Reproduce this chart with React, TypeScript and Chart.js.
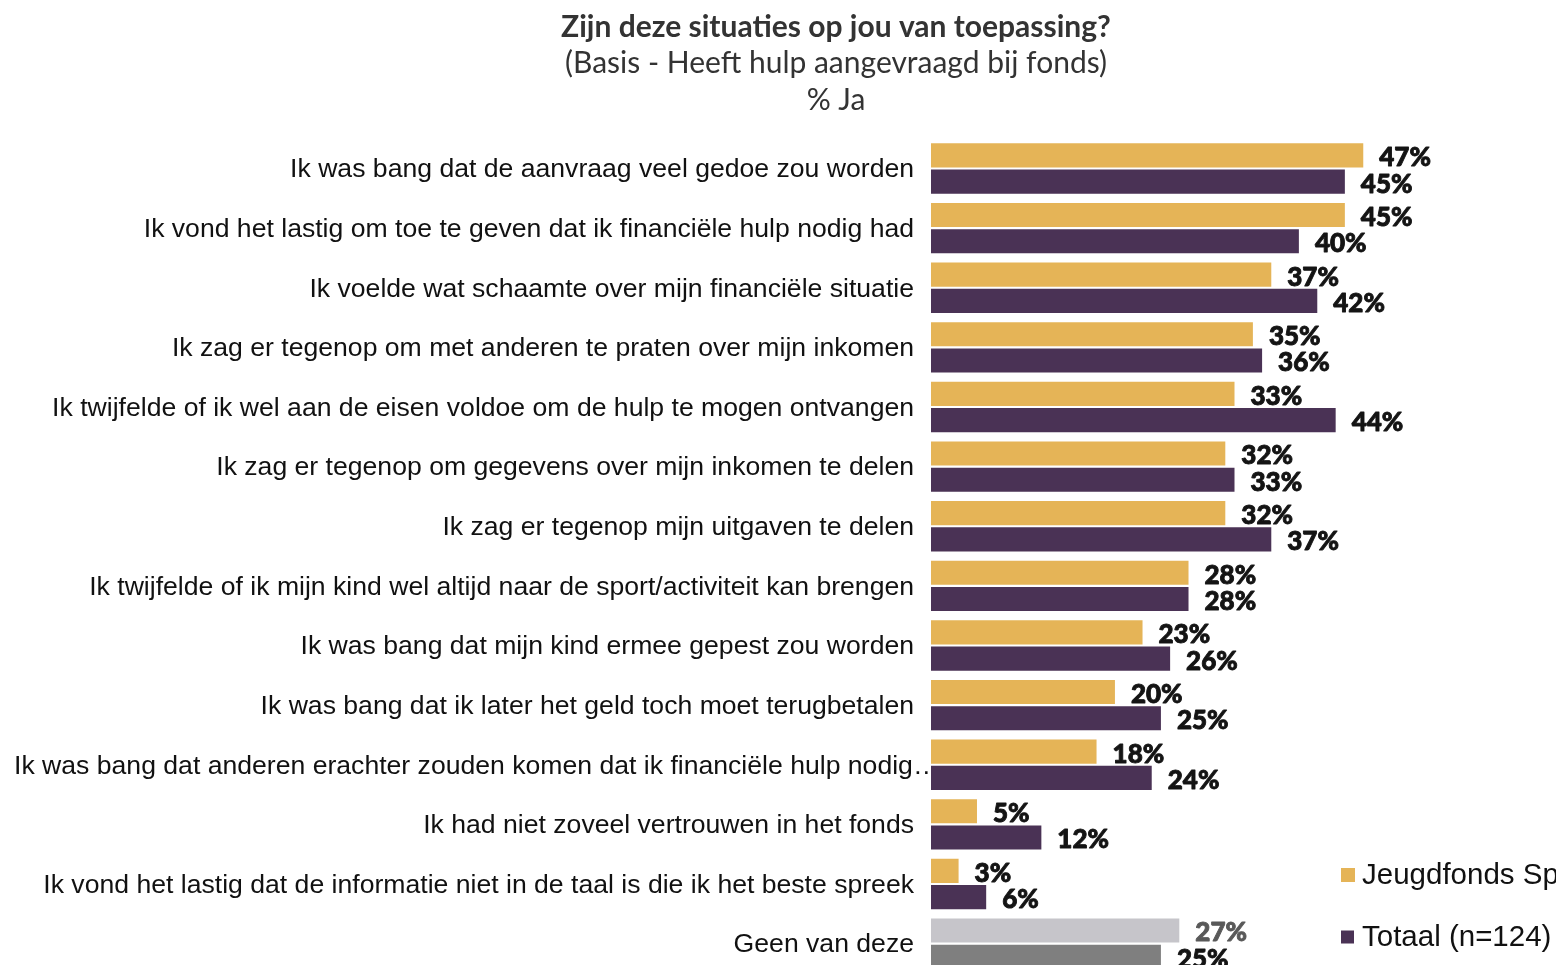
import React, { useEffect, useRef } from "react";
import { Chart, registerables } from "chart.js";

Chart.register(...registerables);

const categories = [
  "Ik was bang dat de aanvraag veel gedoe zou worden",
  "Ik vond het lastig om toe te geven dat ik financiële hulp nodig had",
  "Ik voelde wat schaamte over mijn financiële situatie",
  "Ik zag er tegenop om met anderen te praten over mijn inkomen",
  "Ik twijfelde of ik wel aan de eisen voldoe om de hulp te mogen ontvangen",
  "Ik zag er tegenop om gegevens over mijn inkomen te delen",
  "Ik zag er tegenop mijn uitgaven te delen",
  "Ik twijfelde of ik mijn kind wel altijd naar de sport/activiteit kan brengen",
  "Ik was bang dat mijn kind ermee gepest zou worden",
  "Ik was bang dat ik later het geld toch moet terugbetalen",
  "Ik was bang dat anderen erachter zouden komen dat ik financiële hulp nodig…",
  "Ik had niet zoveel vertrouwen in het fonds",
  "Ik vond het lastig dat de informatie niet in de taal is die ik het beste spreek",
  "Geen van deze",
];

const jeugdfonds = [47, 45, 37, 35, 33, 32, 32, 28, 23, 20, 18, 5, 3, 27];
const totaal = [45, 40, 42, 36, 44, 33, 37, 28, 26, 25, 24, 12, 6, 25];

const seriesNames = ["Jeugdfonds Sport & Cultuur", "Totaal (n=124)"];
const titleText = "Zijn deze situaties op jou van toepassing?";
const subtitleLines = ["(Basis - Heeft hulp aangevraagd bij fonds)", "% Ja"];

const YELLOW = "#E5B457";
const PURPLE = "#4A3255";
const LIGHT_GRAY = "#C6C5CA";
const DARK_GRAY = "#7F7F7F";
const LABEL_DARK = "#141414";
const LABEL_GRAY = "#595959";

const lastIdx = categories.length - 1;
const yellowColors = categories.map((_, i) => (i === lastIdx ? LIGHT_GRAY : YELLOW));
const purpleColors = categories.map((_, i) => (i === lastIdx ? DARK_GRAY : PURPLE));
const labelColors = [
  categories.map((_, i) => (i === lastIdx ? LABEL_GRAY : LABEL_DARK)),
  categories.map(() => LABEL_DARK),
];

const categoryLabelPlugin = {
  id: "categoryLabels",
  beforeDatasetsDraw(chart: any) {
    const ctx = chart.ctx;
    const yScale = chart.scales.y;
    ctx.save();
    ctx.font = '26.6px "Liberation Sans", Arial, sans-serif';
    ctx.fillStyle = "#111111";
    ctx.textBaseline = "middle";
    const right = chart.chartArea.left - 17;
    categories.forEach((c, i) => {
      const y = yScale.getPixelForValue(i) + 1.5;
      const w = ctx.measureText(c).width;
      if (w > right - 6) {
        ctx.textAlign = "left";
        ctx.fillText(c, 6, y);
      } else {
        ctx.textAlign = "right";
        ctx.fillText(c, right, y);
      }
    });
    ctx.restore();
  },
};

const valueLabelPlugin = {
  id: "valueLabels",
  afterDatasetsDraw(chart: any) {
    const ctx = chart.ctx;
    ctx.save();
    ctx.font = '900 26px Lato, "DejaVu Sans", sans-serif';
    ctx.textAlign = "left";
    ctx.textBaseline = "alphabetic";
    ctx.lineWidth = 0.9;
    ctx.lineJoin = "round";
    chart.data.datasets.forEach((ds: any, di: number) => {
      const meta = chart.getDatasetMeta(di);
      meta.data.forEach((bar: any, i: number) => {
        const txt = ds.data[i] + "%";
        ctx.fillStyle = labelColors[di][i];
        ctx.strokeStyle = labelColors[di][i];
        ctx.fillText(txt, bar.x + 16, bar.y + 11);
        ctx.strokeText(txt, bar.x + 16, bar.y + 11);
      });
    });
    ctx.restore();
  },
};

const legendPlugin = {
  id: "customLegend",
  afterDraw(chart: any) {
    const ctx = chart.ctx;
    ctx.save();
    ctx.font = '29.5px "Liberation Sans", Arial, sans-serif';
    ctx.textBaseline = "middle";
    ctx.textAlign = "left";
    const items = [
      { color: YELLOW, y: 867, size: 14 },
      { color: PURPLE, y: 929, size: 13 },
    ];
    items.forEach((it, i) => {
      ctx.fillStyle = it.color;
      ctx.fillRect(1333, it.y - it.size / 2, it.size, it.size);
      ctx.fillStyle = "#111111";
      ctx.fillText(seriesNames[i], 1354, it.y + 1);
    });
    ctx.restore();
  },
};

export default function App() {
  const ref = useRef<HTMLCanvasElement>(null);

  useEffect(() => {
    const chart = new Chart(ref.current as HTMLCanvasElement, {
      type: "bar",
      data: {
        labels: categories,
        datasets: [
          {
            label: seriesNames[0],
            data: jeugdfonds,
            backgroundColor: yellowColors,
            categoryPercentage: 0.88,
            barPercentage: 0.92,
          },
          {
            label: seriesNames[1],
            data: totaal,
            backgroundColor: purpleColors,
            categoryPercentage: 0.88,
            barPercentage: 0.92,
          },
        ],
      },
      options: {
        indexAxis: "y",
        animation: false,
        responsive: false,
        devicePixelRatio: 1,
        layout: { padding: { top: 0, left: 0, right: 0, bottom: 4.6 } },
        scales: {
          x: { display: false, min: 0, max: 79.7 },
          y: {
            display: true,
            grid: { display: false, drawTicks: false },
            border: { display: false },
            ticks: { display: false, autoSkip: false },
            afterFit: (s: any) => {
              s.width = 923;
            },
          },
        },
        plugins: {
          legend: { display: false },
          tooltip: { enabled: false },
          title: {
            display: true,
            text: titleText,
            color: "#333333",
            font: { family: "Lato", size: 30, weight: "bold", lineHeight: 1.2 },
            padding: { top: 1, bottom: 0 },
          },
          subtitle: {
            display: true,
            text: subtitleLines,
            color: "#333333",
            font: { family: "Lato", size: 30, weight: "normal", lineHeight: 37 / 30 },
            padding: { top: 0, bottom: 19.65 },
          },
        },
      } as any,
      plugins: [categoryLabelPlugin, valueLabelPlugin, legendPlugin],
    });
    return () => chart.destroy();
  }, []);

  return (
    <div
      style={{
        position: "fixed",
        left: 0,
        top: 0,
        width: "100vw",
        height: "100vh",
        overflow: "hidden",
        background: "#ffffff",
      }}
    >
      <canvas
        ref={ref}
        width={1656}
        height={970}
        style={{ position: "absolute", left: 8, top: 8, width: 1656, height: 970 }}
      />
    </div>
  );
}
